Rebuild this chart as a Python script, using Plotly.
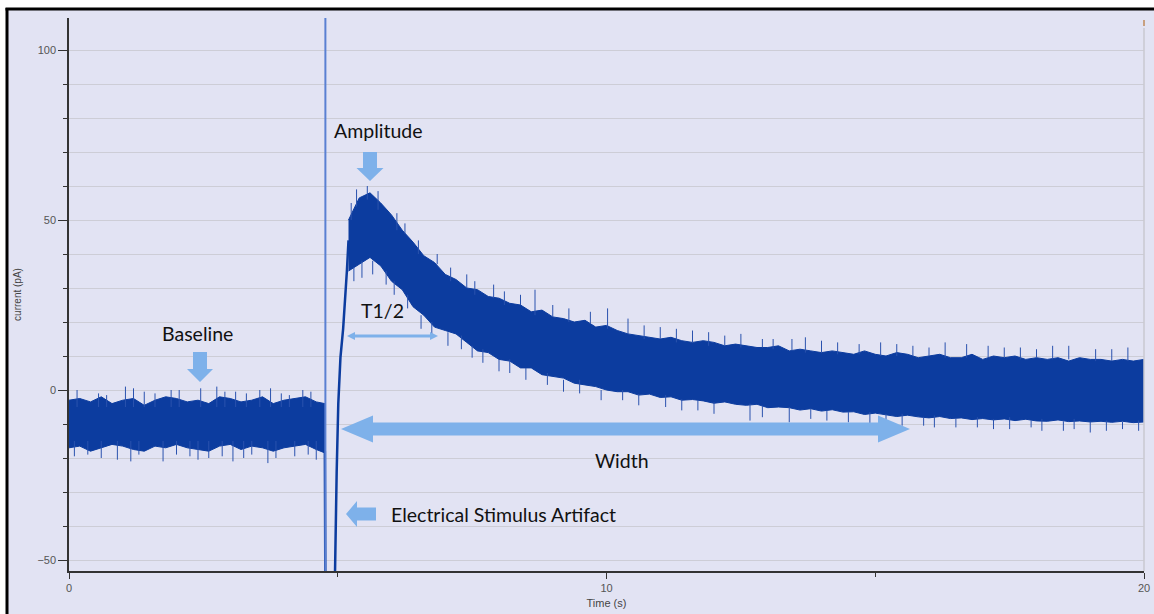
import plotly.graph_objects as go

# ---------------- data ----------------
stim_time = 4.77  # s, electrical stimulus

base_t = [0.0, 0.2, 0.4, 0.6, 0.8, 1.0, 1.2, 1.4, 1.6, 1.8, 2.0, 2.2, 2.4, 2.6, 2.8,
          3.0, 3.2, 3.4, 3.6, 3.8, 4.0, 4.2, 4.4, 4.6, 4.76]
base_hi = [-3, -2.5, -3.5, -2, -4, -3, -2.5, -4.5, -3, -2, -2.5, -3.5, -3, -4, -2,
           -2.5, -3.5, -3, -2, -4, -3, -2.5, -2, -3.5, -4]
base_lo = [-17, -16.5, -18, -17, -16, -16.5, -17.5, -18, -16.5, -17, -16, -17, -17.5, -18, -16.5,
           -16, -17.5, -16.5, -17, -18, -17, -16.5, -16, -17.5, -18.5]

artifact_t = [4.76, 4.77, 4.93, 4.95, 4.98, 5.01, 5.05, 5.10, 5.17, 5.2]
artifact_y = [-18, -60, -60, -53, -24, -4, 9.5, 18, 35, 44]

decay_t = [5.2, 5.4, 5.6, 5.8, 6.0, 6.2, 6.4, 6.6, 6.8, 7.0, 7.2, 7.4, 7.6, 7.8, 8.0,
           8.2, 8.4, 8.6, 8.8, 9.0, 9.2, 9.4, 9.6, 9.8, 10.0, 10.2, 10.4, 10.6, 10.8, 11.0,
           11.2, 11.4, 11.6, 11.8, 12.0, 12.2, 12.4, 12.6, 12.8, 13.0, 13.2, 13.4, 13.6, 13.8, 14.0,
           14.2, 14.4, 14.6, 14.8, 15.0, 15.2, 15.4, 15.6, 15.8, 16.0, 16.2, 16.4, 16.6, 16.8, 17.0,
           17.2, 17.4, 17.6, 17.8, 18.0, 18.2, 18.4, 18.6, 18.8, 19.0, 19.2, 19.4, 19.6, 19.8, 20.0]
decay_hi = [50, 56.5, 58, 55, 51.5, 47, 43.5, 39.5, 37.5, 34, 32.5, 30, 29.5, 27.5, 27,
            25.5, 25, 23, 23.5, 21.5, 21, 20, 20.5, 18.5, 19, 17.5, 16.5, 16, 15.5, 15,
            15.5, 14.5, 14, 14.5, 14, 13, 13.5, 13, 12.5, 12.5, 13, 11.5, 12, 11.5, 11,
            11.5, 11, 10.5, 11.5, 10.5, 10, 11, 10.5, 9.5, 10, 10.5, 9.5, 9.5, 10.5, 9,
            10, 9.5, 10, 9, 9.5, 9, 9.5, 8.5, 9.5, 9, 9, 8.5, 9, 8.5, 9]
decay_lo = [35, 37, 39, 36.5, 32, 29.5, 24.5, 22, 18.5, 17.5, 16.5, 14, 11.5, 11, 9,
            8.5, 6.5, 6.5, 4.5, 4, 3.5, 2, 1.5, 1, 0, -0.5, -0.5, -1.5, -1.2, -2.2,
            -2, -3, -2.8, -3.2, -3.9, -3.5, -4.2, -4.5, -4.2, -5.2, -5, -5.2, -5.9, -5.5, -6.2,
            -5.8, -6.5, -6.4, -7.2, -6.8, -7.2, -7.8, -7.4, -7.9, -8.2, -7.8, -8.4, -8.2, -8.7, -8.4,
            -8.8, -8.5, -9, -8.6, -9.1, -9.2, -8.8, -9.3, -9.1, -9.4, -9.2, -9.5, -9.2, -9.6, -9.4]

# noise spikes: time, value at band edge, spike tip
spike_t = [0.15, 0.55, 1.05, 1.4, 1.9, 2.45, 2.75, 3.1, 3.55, 3.95, 4.35,
           0.7, 1.2, 1.6, 2.05, 2.9, 3.3, 3.75, 4.1, 4.5,
           0.35, 0.9, 1.3, 1.75, 2.25, 2.6, 3.05, 3.4, 3.85, 4.2, 4.6,
           0.1, 0.6, 1.15, 2.0, 2.4, 2.85, 3.25, 3.7, 4.45,
           5.35, 5.75, 6.1, 6.5, 7.1, 7.55, 8.1, 8.67, 9.3, 10.02, 10.7, 11.3, 11.9, 12.5,
           13.1, 13.7, 14.3, 15.1, 15.7, 16.3, 17.1, 17.7, 18.3, 19.1, 19.7,
           5.25, 5.55, 6.25, 6.85, 7.4, 7.9, 8.4, 9.0, 9.7, 10.4, 11.0, 11.6, 12.2, 12.9,
           13.45, 14.0, 14.7, 15.4, 16.0, 16.7, 17.4, 18.0, 18.6, 19.4,
           5.45, 5.9, 6.3, 6.75, 7.3, 7.7, 8.2, 8.9, 9.5, 10.3, 11.1, 11.7, 12.67, 13.4,
           14.1, 14.9, 15.5, 16.1, 16.9, 17.5, 18.1, 18.7, 19.3, 19.9,
           5.3, 5.65, 6.05, 6.55, 7.05, 7.5, 8.0, 8.5, 9.2, 9.9, 10.6, 11.4, 12.0, 12.9,
           13.8, 14.5, 15.2, 15.9, 16.5, 17.2, 17.9, 18.5, 19.0, 19.6]
spike_base = [-5, -5, -5, -5, -5, -5, -5, -5, -5, -5, -5,
              -5, -5, -5, -5, -5, -5, -5, -5, -5,
              -15, -15, -15, -15, -15, -15, -15, -15, -15, -15, -15,
              -15, -15, -15, -15, -15, -15, -15, -15, -15,
              54, 53, 47, 40, 32, 28, 25, 22, 20, 18, 15, 14, 13, 12.5,
              12, 11, 10.5, 10, 10, 9.5, 9.5, 9, 9, 8.5, 8.5,
              50, 56, 46, 37, 30, 27, 25, 21.5, 19.5, 16.5, 15, 14, 13, 12.5,
              11.5, 11, 10.5, 10, 10, 9.5, 9.5, 9.5, 9, 8.5,
              38, 35, 28, 20, 16, 12, 9, 5, 3, 0, -1.5, -3, -4, -5,
              -6, -6.5, -7, -7.5, -8, -8, -8.5, -8.5, -9, -9,
              36, 38, 32, 22, 17, 13, 9, 6.5, 3, 0, -1.2, -2.7, -3.6, -4.6,
              -5.6, -6.5, -7.2, -7.9, -8.3, -8.6, -8.9, -9.2, -9.3, -9.4]
spike_tip = [0, -1, 1, -0.5, 0, 0.5, 1, -0.5, 0, -1, 0,
             -1.5, 0.5, -1, 0, -0.5, -1, 0.5, -1.5, -0.5,
             -19, -20.5, -19, -21, -19.5, -20, -21, -19, -20, -19.5, -20.5,
             -19.5, -20, -21, -19, -20.5, -19.5, -20, -21.5, -19,
             59, 58.5, 52, 44, 36, 32, 29, 29.5, 24, 24, 19, 18, 17, 16.5,
             15, 15.5, 14, 14, 13, 14, 13, 12.5, 13, 12, 12.5,
             55, 60, 49, 40, 34, 31, 28, 25, 23, 21, 18.5, 17.5, 16, 15,
             15, 14.5, 13.5, 13.5, 12.5, 13.5, 12.5, 12, 13, 12,
             33, 31, 24, 16, 12, 8, 5, 1.5, -1, -3, -5, -6, -9, -9.5,
             -9, -10, -10.5, -11, -11, -11.5, -12, -11.5, -12, -12,
             32, 34, 28, 18, 13, 9.5, 5.5, 3, -0.5, -3, -4.5, -6, -7, -8,
             -8.5, -9.5, -10, -10.5, -11, -11.5, -11, -12, -12.5, -11.5]

y_ticks = [-50, 0, 50, 100]
x_ticks = [0, 10, 20]

# ---------------- styling ----------------
BG = "#E2E3F3"
TRACE = "#0C3C9F"
ARROW = "#7EB1EA"
GRID = "#CDCDD6"

W, H = 1154, 614
L_PX, R_PX, T_PX, B_PX = 69, 1144, 18, 571
X0, X1 = 0.0, 20.0
Y0 = (390 - 571) / 3.4
Y1 = (390 - 18) / 3.4
SX = (X1 - X0) / (R_PX - L_PX)   # data units per pixel (x)
SY = (Y1 - Y0) / (B_PX - T_PX)   # data units per pixel (y)

fig = go.Figure()

# baseline band
fig.add_trace(go.Scatter(x=base_t + base_t[::-1], y=base_hi + base_lo[::-1],
                         fill="toself", fillcolor=TRACE, mode="lines",
                         line=dict(color=TRACE, width=1), hoverinfo="skip", showlegend=False))
# decay band
fig.add_trace(go.Scatter(x=decay_t + decay_t[::-1], y=decay_hi + decay_lo[::-1],
                         fill="toself", fillcolor=TRACE, mode="lines",
                         line=dict(color=TRACE, width=1), hoverinfo="skip", showlegend=False))
# spikes
sx, sy = [], []
for t, b, p in zip(spike_t, spike_base, spike_tip):
    sx += [t, t, None]
    sy += [b, p, None]
fig.add_trace(go.Scatter(x=sx, y=sy, mode="lines", line=dict(color="#2A52AE", width=1),
                         hoverinfo="skip", showlegend=False))
# artifact
fig.add_trace(go.Scatter(x=artifact_t, y=artifact_y, mode="lines",
                         line=dict(color=TRACE, width=2.5), hoverinfo="skip", showlegend=False))
# stimulus line (on top)
fig.add_trace(go.Scatter(x=[stim_time, stim_time], y=[Y0, Y1], mode="lines",
                         line=dict(color="#5A80D2", width=2), hoverinfo="skip", showlegend=False))


# ---------------- annotation arrows ----------------
def down_arrow(tx, ty, total, head, hh, sh):
    pts = [(tx, ty), (tx - hh * SX, ty + head * SY), (tx - sh * SX, ty + head * SY),
           (tx - sh * SX, ty + total * SY), (tx + sh * SX, ty + total * SY),
           (tx + sh * SX, ty + head * SY), (tx + hh * SX, ty + head * SY)]
    return "M " + " L ".join(f"{x},{y}" for x, y in pts) + " Z"


def left_arrow(tx, ty, total, head, hh, sh):
    pts = [(tx, ty), (tx + head * SX, ty + hh * SY), (tx + head * SX, ty + sh * SY),
           (tx + total * SX, ty + sh * SY), (tx + total * SX, ty - sh * SY),
           (tx + head * SX, ty - sh * SY), (tx + head * SX, ty - hh * SY)]
    return "M " + " L ".join(f"{x},{y}" for x, y in pts) + " Z"


def double_arrow(xa, xb, yc, head, hh, sh):
    pts = [(xa, yc), (xa + head * SX, yc + hh * SY), (xa + head * SX, yc + sh * SY),
           (xb - head * SX, yc + sh * SY), (xb - head * SX, yc + hh * SY), (xb, yc),
           (xb - head * SX, yc - hh * SY), (xb - head * SX, yc - sh * SY),
           (xa + head * SX, yc - sh * SY), (xa + head * SX, yc - hh * SY)]
    return "M " + " L ".join(f"{x},{y}" for x, y in pts) + " Z"


def px2t(px):
    return X0 + (px - L_PX) * SX


def py2y(py):
    return Y1 - (py - T_PX) * SY


shapes = []
for path in [
    down_arrow(px2t(370), py2y(181), 29, 13, 13.5, 7),        # amplitude
    down_arrow(px2t(200), py2y(382), 30, 13, 13, 7),          # baseline
    left_arrow(px2t(346), py2y(514), 30, 11, 13, 6.5),        # artifact
    double_arrow(px2t(341), px2t(910), py2y(429), 32, 13.5, 6.5),  # width
    double_arrow(px2t(347), px2t(438), py2y(336), 8, 4, 1.5),      # T1/2
]:
    shapes.append(dict(type="path", path=path, xref="x", yref="y",
                       fillcolor=ARROW, line=dict(width=0), layer="above"))


# paper helpers for frame
def ppx(px):
    return (px - L_PX) / (R_PX - L_PX)


def ppy(py):
    return (B_PX - py) / (B_PX - T_PX)


# right-edge grey line and little marker
shapes.append(dict(type="line", xref="paper", yref="paper", x0=1, x1=1, y0=0, y1=ppy(28),
                   line=dict(color="#C8C8D0", width=1.5)))
shapes.append(dict(type="line", xref="paper", yref="paper", x0=1, x1=1, y0=ppy(26), y1=ppy(20),
                   line=dict(color="#C8A080", width=2)))
# white outside + black frame (top and left)
shapes.append(dict(type="rect", xref="paper", yref="paper", x0=ppx(-5), x1=ppx(6),
                   y0=ppy(620), y1=ppy(-5), fillcolor="white", line=dict(width=0), layer="above"))
shapes.append(dict(type="rect", xref="paper", yref="paper", x0=ppx(-5), x1=ppx(1160),
                   y0=ppy(8), y1=ppy(-5), fillcolor="white", line=dict(width=0), layer="above"))
shapes.append(dict(type="line", xref="paper", yref="paper", x0=ppx(7), x1=ppx(7),
                   y0=ppy(620), y1=ppy(8), line=dict(color="black", width=3), layer="above"))
shapes.append(dict(type="line", xref="paper", yref="paper", x0=ppx(5.5), x1=ppx(1160),
                   y0=ppy(9), y1=ppy(9), line=dict(color="black", width=3), layer="above"))

TXT = dict(family="Lato, Carlito, Liberation Sans, sans-serif", size=19.5, color="#111111")
annotations = [
    dict(x=px2t(378), y=py2y(130), text="Amplitude", showarrow=False, font=TXT),
    dict(x=px2t(197), y=py2y(333), text="Baseline", showarrow=False, font=TXT),
    dict(x=px2t(382), y=py2y(310), text="T1/2", showarrow=False, font=TXT),
    dict(x=px2t(622), y=py2y(460), text="Width", showarrow=False, font=TXT),
    dict(x=px2t(389), y=py2y(514), text="Electrical Stimulus Artifact", showarrow=False,
         xanchor="left", font=TXT),
]

TICKFONT = dict(family="Liberation Sans, Arial, sans-serif", size=11, color="#555555")

fig.update_layout(
    width=W, height=H,
    margin=dict(l=L_PX, r=W - R_PX, t=T_PX, b=H - B_PX, autoexpand=False),
    paper_bgcolor=BG, plot_bgcolor=BG,
    shapes=shapes, annotations=annotations,
    xaxis=dict(range=[X0, X1], tickvals=x_ticks, ticks="outside", ticklen=6, tickcolor="#333",
               showgrid=False, zeroline=False, showline=True, linecolor="#333", linewidth=1.5,
               tickfont=TICKFONT,
               minor=dict(dtick=5, tick0=0, ticks="outside", ticklen=4, tickcolor="#333", showgrid=False),
               title=dict(text="Time (s)", font=dict(family="Liberation Sans, Arial", size=11, color="#444"),
                          standoff=6)),
    yaxis=dict(range=[Y0, Y1], tickvals=y_ticks, ticks="outside", ticklen=9, tickcolor="#333",
               showgrid=True, gridcolor=GRID, gridwidth=1, zeroline=False,
               showline=True, linecolor="#333", linewidth=1.5, tickfont=TICKFONT,
               minor=dict(dtick=10, tick0=0, ticks="outside", ticklen=4, tickcolor="#333",
                          showgrid=True, gridcolor=GRID, gridwidth=1),
               title=dict(text="current (pA)", font=dict(family="Liberation Sans, Arial", size=10, color="#444"),
                          standoff=14)),
)

fig.write_html("out.html", config={"displayModeBar": False},
               post_script="document.body.style.margin='0';document.body.style.overflow='hidden';")
